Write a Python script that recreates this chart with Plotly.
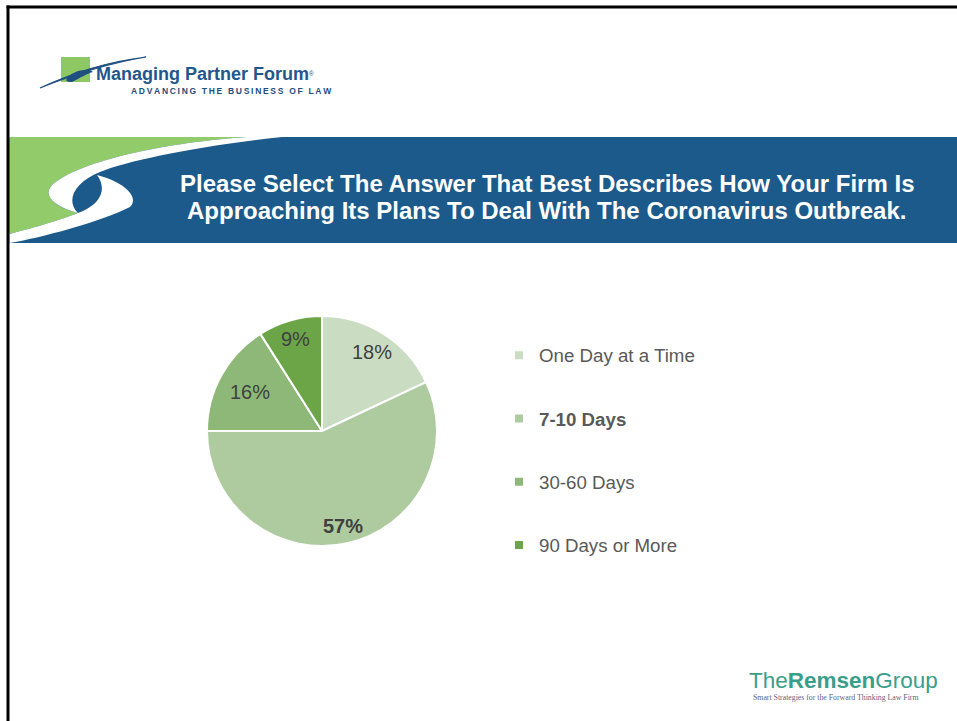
import math
import plotly.graph_objects as go

# The page body margin is removed (post_script below), so the figure fills the window.
OFF = 0
W, H = 957, 721

# ---- data ----
categories = ["One Day at a Time", "7-10 Days", "30-60 Days", "90 Days or More"]
shares = [18, 57, 16, 9]
slice_colors = ["#CADDC3", "#ADCB9F", "#8DB878", "#6BA548"]
bold_flags = [False, True, False, False]
title_lines = ["Please Select The Answer That Best Describes How Your Firm Is",
               "Approaching Its Plans To Deal With The Coronavirus Outbreak."]

# ---- layout parameters ----
FONT = "Arial, Liberation Sans, Helvetica, sans-serif"
PIE_CX, PIE_CY, PIE_R = 322, 431, 115          # window pixels
LABEL_RADIUS = [0.81, 0.85, 0.71, 0.83]         # label distance as fraction of radius
TITLE_Y = [183.5, 210]


def px(x):
    return (x - OFF) / W


def py(y):
    return 1 - (y - OFF) / H


def path(cmds):
    out = []
    for c, pts in cmds:
        if c == "Z":
            out.append("Z")
            continue
        out.append(c + " " + " ".join(f"{px(x):.5f},{py(y):.5f}" for x, y in pts))
    return " ".join(out)


def wrap(t, b):
    return f"<b>{t}</b>" if b else t


fig = go.Figure()

fig.add_trace(go.Pie(
    labels=categories,
    values=shares,
    sort=False,
    direction="clockwise",
    rotation=0,
    marker=dict(colors=slice_colors, line=dict(color="white", width=2)),
    textinfo="none",
    hoverinfo="label+percent",
    showlegend=False,
    domain=dict(x=[px(PIE_CX - PIE_R), px(PIE_CX + PIE_R)],
                y=[py(PIE_CY + PIE_R), py(PIE_CY - PIE_R)]),
))

# legend entries (one per category, colour from the same arrays)
for cat, col, b in zip(categories, slice_colors, bold_flags):
    fig.add_trace(go.Scatter(
        x=[None], y=[None], mode="markers",
        marker=dict(symbol="square", size=8, color=col),
        name=wrap(cat, b), legendgroup=cat, showlegend=True, hoverinfo="skip",
    ))

annotations = []
# slice percentage labels placed at each slice's mid-angle
total = sum(shares)
cum = 0
for v, b, rf in zip(shares, bold_flags, LABEL_RADIUS):
    mid = (cum + v / 2) / total * 2 * math.pi
    cum += v
    lx = PIE_CX + rf * PIE_R * math.sin(mid)
    ly = PIE_CY - rf * PIE_R * math.cos(mid)
    annotations.append(dict(xref="paper", yref="paper", x=px(lx), y=py(ly),
                            xanchor="center", yanchor="middle", showarrow=False,
                            text=wrap(f"{round(v / total * 100)}%", b),
                            font=dict(family=FONT, size=20, color="#404040")))

shapes = []
# slide border (top and left)
shapes.append(dict(type="rect", xref="paper", yref="paper", x0=px(6.5), x1=1, y0=py(8.5), y1=py(5.5),
                   fillcolor="black", line=dict(width=0)))
shapes.append(dict(type="rect", xref="paper", yref="paper", x0=px(6.5), x1=px(9.5), y0=0, y1=py(5.5),
                   fillcolor="black", line=dict(width=0)))
# banner
shapes.append(dict(type="rect", xref="paper", yref="paper", x0=px(9.5), x1=1, y0=py(243), y1=py(137),
                   fillcolor="#1B5A8A", line=dict(width=0), layer="below"))
green = path([("M", [(9.5, 137)]), ("L", [(248, 137)]),
              ("C", [(170, 142), (80, 160), (52, 185)]),
              ("C", [(42, 196), (55, 207), (78, 213)]),
              ("C", [(55, 222), (25, 230), (9.5, 234)]), ("Z", [])])
shapes.append(dict(type="path", xref="paper", yref="paper", path=green, fillcolor="#92CB69",
                   line=dict(width=0), layer="below"))
white1 = path([("M", [(248, 137)]), ("L", [(282, 137)]),
               ("C", [(200, 146), (130, 160), (100, 172)]),
               ("C", [(75, 182), (65, 200), (78, 213)]),
               ("C", [(55, 207), (42, 196), (52, 185)]),
               ("C", [(80, 160), (170, 142), (248, 137)]), ("Z", [])])
shapes.append(dict(type="path", xref="paper", yref="paper", path=white1, fillcolor="white",
                   line=dict(width=0), layer="below"))
white2 = path([("M", [(97, 175)]),
               ("C", [(125, 182), (140, 198), (130, 207)]),
               ("C", [(100, 222), (40, 238), (9.5, 243)]),
               ("L", [(9.5, 234)]),
               ("C", [(25, 230), (55, 222), (78, 213)]),
               ("C", [(100, 205), (108, 190), (97, 175)]), ("Z", [])])
shapes.append(dict(type="path", xref="paper", yref="paper", path=white2, fillcolor="white",
                   line=dict(width=0), layer="below"))

# Managing Partner Forum logo
shapes.append(dict(type="rect", xref="paper", yref="paper", x0=px(61), x1=px(90), y0=py(82), y1=py(57),
                   fillcolor="#8DC863", line=dict(width=0), layer="below"))
swoosh = path([("M", [(40, 88)]),
               ("C", [(70, 74), (105, 62), (146, 57)]),
               ("C", [(110, 63), (80, 72), (40, 88)]), ("Z", [])])
shapes.append(dict(type="path", xref="paper", yref="paper", path=swoosh, fillcolor="#1F4E80",
                   line=dict(color="#1F4E80", width=1.2), layer="below"))
s_mark = path([("M", [(66, 80)]),
               ("C", [(72, 70), (88, 68), (93, 72)]),
               ("C", [(88, 73), (80, 78), (72, 82)]),
               ("C", [(70, 82), (67, 82), (66, 80)]), ("Z", [])])
shapes.append(dict(type="path", xref="paper", yref="paper", path=s_mark, fillcolor="#1F4E80",
                   line=dict(width=0), layer="below"))

# banner title (one annotation per line)
for t, ty in zip(title_lines, TITLE_Y):
    annotations.append(dict(xref="paper", yref="paper", x=px(546.5), y=py(ty), xanchor="center",
                            yanchor="middle", text=f"<b>{t}</b>", showarrow=False,
                            font=dict(family=FONT, size=24, color="white")))
# top-left logo text
annotations.append(dict(xref="paper", yref="paper", x=px(94), y=py(74), xanchor="left", yanchor="middle",
                        text="<b>Managing Partner Forum</b><span style='font-size:9px'><sup>®</sup></span>",
                        showarrow=False, font=dict(family=FONT, size=18, color="#23578C")))
annotations.append(dict(xref="paper", yref="paper", x=px(129), y=py(91.5), xanchor="left", yanchor="middle",
                        text="<b>" + "\u2009".join("ADVANCING THE BUSINESS OF LAW") + "</b>", showarrow=False,
                        font=dict(family=FONT, size=8.5, color="#1F4E80")))
# bottom-right logo
annotations.append(dict(xref="paper", yref="paper", x=px(747), y=py(680), xanchor="left", yanchor="middle",
                        text="The<b>Remsen</b>Group", showarrow=False,
                        font=dict(family=FONT, size=22.5, color="#3A9E8A")))
annotations.append(dict(xref="paper", yref="paper", x=px(751), y=py(697.5), xanchor="left", yanchor="middle",
                        text="Smart Strategies for the Forward Thinking Law Firm", showarrow=False,
                        font=dict(family="Liberation Serif, Times New Roman, serif", size=7.8, color="#5F6285")))

fig.update_layout(
    width=W, height=H,
    margin=dict(l=0, r=0, t=0, b=0),
    paper_bgcolor="white", plot_bgcolor="white",
    xaxis=dict(visible=False), yaxis=dict(visible=False),
    shapes=shapes, annotations=annotations,
    legend=dict(x=px(499), y=py(336.5), xanchor="left", yanchor="top",
                font=dict(family=FONT, size=18.7, color="#595959"),
                tracegroupgap=36, traceorder="grouped", bgcolor="rgba(0,0,0,0)"),
    showlegend=True,
)

fig.write_html("out.html",
               config={"displayModeBar": False},
               post_script="document.body.style.margin='0';document.body.style.overflow='hidden';")
